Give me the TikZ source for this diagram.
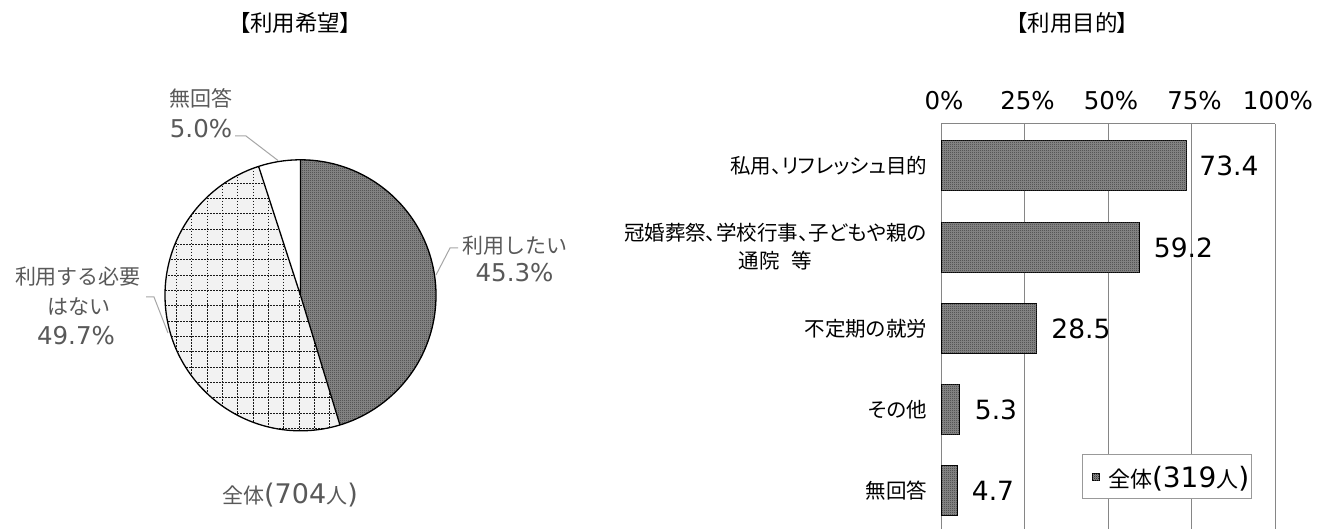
\documentclass[tikz,border=0pt]{standalone}
\usepackage{fontspec}
\setmainfont{Noto Sans CJK JP}
\newfontfamily\jpp[RawFeature=+palt]{Noto Sans CJK JP}
\newfontfamily\lat{DejaVu Sans}
\usetikzlibrary{patterns}
\pgfdeclarepatternformonly{finecheck}{\pgfpointorigin}{\pgfqpoint{2pt}{2pt}}{\pgfqpoint{2pt}{2pt}}{%
 \pgfpathrectangle{\pgfpointorigin}{\pgfqpoint{1pt}{1pt}}%
 \pgfpathrectangle{\pgfqpoint{1pt}{1pt}}{\pgfqpoint{1pt}{1pt}}%
 \pgfusepath{fill}}
\definecolor{lbl}{HTML}{595959}
\definecolor{gridc}{HTML}{868686}
\definecolor{leadc}{HTML}{A6A6A6}
\newcommand\LatTxt[2]{{\lat\fontsize{#1}{#1}\selectfont #2}}
\newcommand\JpSize[1]{\fontsize{#1}{#1}\selectfont}
\begin{document}
\begin{tikzpicture}[x=1pt,y=1pt,
  txt/.style={inner sep=0pt, outer sep=0pt},
  checkfill/.style={fill=black!45, postaction={pattern=finecheck, pattern color=black!78}},
  barbox/.style={draw=black, line width=1.2pt, checkfill, inner sep=0pt, minimum height=50pt, anchor=west},
  leader/.style={draw=leadc, line width=1pt},
  gridl/.style={draw=gridc, line width=1pt},
  dotgrid/.style={draw=black!90, line width=1.5pt, dash pattern=on 1.5pt off 1.5pt},
  pielbl/.style={txt, text=lbl, align=center},
  catlbl/.style={txt, anchor=east, align=center, font=\jpp\JpSize{20.5}},
  vallbl/.style={txt, anchor=west, font=\lat\JpSize{26.5}},
  axlbl/.style={txt, font=\lat\JpSize{24.5}},
  title/.style={txt, font=\jpp\JpSize{22.5}}
]
\useasboundingbox (0,0) rectangle (1328,-529);
\fill[white] (0,0) rectangle (1328,-529);

% ---------- titles ----------
\node[title] (t1) at (295,-22.5) {【利用希望】};
\node[title] (t2) at (1072.5,-22.5) {【利用目的】};

% ---------- pie ----------
\def\R{135.5pt}
\coordinate (C) at (300.5,-295.3);
% slice 1: 利用したい 45.3%
\path[checkfill] (C) -- ++(90:\R) arc[start angle=90,end angle=-73.08,radius=\R] -- cycle;
% slice 2: 利用する必要はない 49.7%
\begin{scope}
  \clip (C) -- ++(-73.08:\R) arc[start angle=-73.08,end angle=-252,radius=\R] -- cycle;
  \fill[black!5] (150,-150) rectangle (350,-440);
  \foreach \yy in {167,183,198,213,229,244,259,275,290,305,321,336,351,367,382,397,413,428}
    \draw[dotgrid] (150,{-(\yy+0.5)}) -- (350,{-(\yy+0.5)});
  \foreach \xx in {161,176,191,207,222,237,253,268,283,299,314,329,345}
    \draw[dotgrid] ({\xx+0.5},-150) -- ({\xx+0.5},-440);
\end{scope}
% slice 3: 無回答 5.0%
\fill[white] (C) -- ++(108:\R) arc[start angle=108,end angle=90,radius=\R] -- cycle;
\draw[line width=1.3pt] (C) circle[radius=\R];
\draw[line width=1.3pt] (C) -- ++(90:\R) (C) -- ++(-73.08:\R) (C) -- ++(108:\R);

% pie labels
\node[pielbl, font=\JpSize{21}] (n3) at (201,-98) {無回答};
\node[pielbl] (p3) at (201,-129) {\LatTxt{24.5}{5.0\%}};
\node[pielbl, font=\JpSize{21}] (n1) at (515,-246) {利用したい};
\node[pielbl] (p1) at (514.5,-272.5) {\LatTxt{24.5}{45.3\%}};
\node[pielbl, font=\JpSize{21}] (n2a) at (78,-277) {利用する必要};
\node[pielbl, font=\JpSize{21}] (n2b) at (79,-307) {はない};
\node[pielbl] (p2) at (76,-336) {\LatTxt{24.5}{49.7\%}};
\node[pielbl, font=\JpSize{21}] (tot) at (290,-495) {全体\LatTxt{27}{(704}人\LatTxt{27}{)}};

% leaders
\coordinate (a3) at (235,-136); \coordinate (b3) at (246,-136); \coordinate (c3) at (278,-160.5);
\coordinate (a1) at (458,-248); \coordinate (b1p) at (450,-248); \coordinate (c1) at (436,-275);
\coordinate (a2) at (146,-297); \coordinate (b2) at (154,-297); \coordinate (c2) at (168,-333);
\draw[leader] (a3) -- (b3) -- (c3);
\draw[leader] (a1) -- (b1p) -- (c1);
\draw[leader] (a2) -- (b2) -- (c2);

% ---------- bar chart ----------
\foreach \g in {0,1,2,3,4} \draw[gridl] ({941+83.5*\g},-124) -- ({941+83.5*\g},-529);
\draw[gridl] (941,-124) -- (1275,-124);

\node[axlbl] (x0) at (944,-101) {0\%};
\node[axlbl] (x1) at (1027.5,-101) {25\%};
\node[axlbl] (x2) at (1111,-101) {50\%};
\node[axlbl] (x3) at (1194.5,-101) {75\%};
\node[axlbl] (x4) at (1278,-101) {100\%};

\node[barbox, minimum width=245.2pt] (b1) at (941,-165.7) {};
\node[barbox, minimum width=197.7pt] (b2n) at (941,-247.8) {};
\node[barbox, minimum width=95.2pt] (b3n) at (941,-328.8) {};
\node[barbox, minimum width=17.7pt] (b4n) at (941,-409.8) {};
\node[barbox, minimum width=15.7pt] (b5n) at (941,-490.8) {};

\node[vallbl] (v1) at ([xshift=12pt]b1.east) {73.4};
\node[vallbl] (v2) at ([xshift=14pt]b2n.east) {59.2};
\node[vallbl] (v3) at ([xshift=14pt]b3n.east) {28.5};
\node[vallbl] (v4) at ([xshift=15pt]b4n.east) {5.3};
\node[vallbl] (v5) at ([xshift=14pt]b5n.east) {4.7};

\node[catlbl] (c1n) at ([xshift=-14pt]b1.west) {私用、リフレッシュ目的};
\node[catlbl, font=\jpp\fontsize{20.5}{28}\selectfont] (c2n) at ([xshift=-14pt,yshift=1pt]b2n.west) {冠婚葬祭、学校行事、子どもや親の\\通院\hspace{0.6em}等};
\node[catlbl] (c3n) at ([xshift=-14pt]b3n.west) {不定期の就労};
\node[catlbl] (c4n) at ([xshift=-14pt]b4n.west) {その他};
\node[catlbl] (c5n) at ([xshift=-14pt]b5n.west) {無回答};

% legend
\node[draw=black!40, fill=white, line width=1pt, minimum width=169pt, minimum height=43.6pt, inner sep=0pt] (leg) at (1167.4,-476.5) {};
\node[draw=black, line width=1pt, checkfill, minimum width=7pt, minimum height=7.5pt, inner sep=0pt] (lm) at (1096,-477) {};
\node[txt, anchor=west, font=\JpSize{22}] (lt) at (1108,-478.5) {全体\LatTxt{28}{(319}人\LatTxt{28}{)}};
\end{tikzpicture}
\end{document}
